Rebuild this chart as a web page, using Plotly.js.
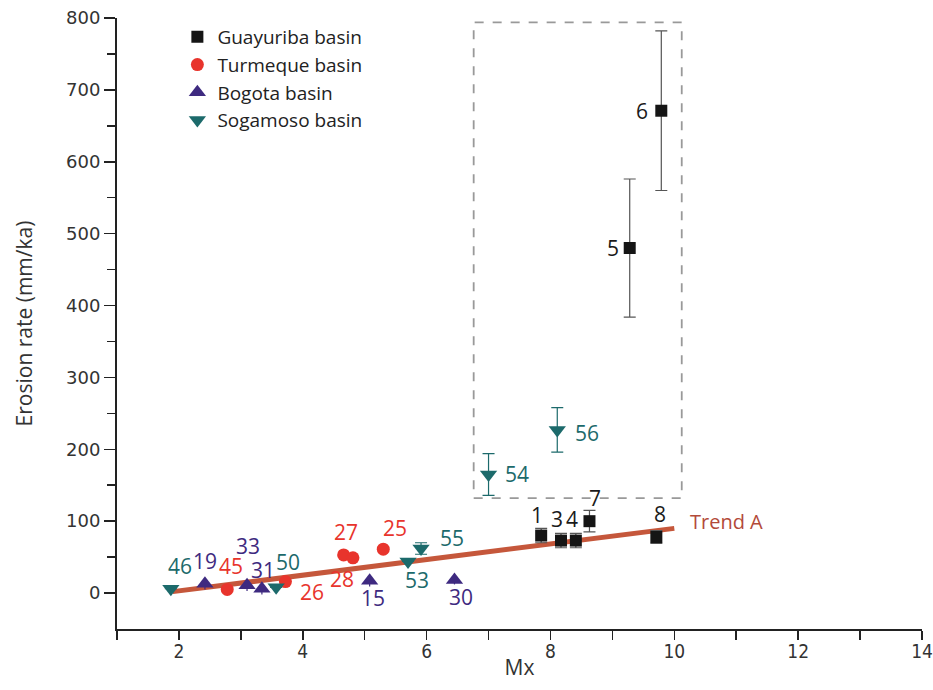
<!DOCTYPE html>
<html>
<head>
<meta charset="utf-8">
<script src="https://cdn.plot.ly/plotly-3.0.1.min.js"></script>
<style>html,body{margin:0;padding:0;background:#fff;} #chart{width:933px;height:690px;}</style>
</head>
<body>
<div id="chart"></div>
<script>
// ---- data ----
const guaLabels = ["1","3","4","7","8","5","6"];
const guaX = [7.85, 8.17, 8.41, 8.63, 9.71, 9.28, 9.79];
const guaY = [80, 73, 73, 100, 78, 480, 671];
const guaErr = [10, 10, 10, 15, 9, 96, 111];

const turLabels = ["45","26","27","28","25"];
const turX = [2.78, 3.72, 4.66, 4.81, 5.30];
const turY = [5, 16, 53, 49, 61];
const turErr = [0, 0, 0, 0, 5];

const bogLabels = ["19","33","31","15","30"];
const bogX = [2.42, 3.10, 3.34, 5.08, 6.45];
const bogY = [13, 11, 6, 17, 18];
const bogErr = [8, 8, 8, 8, 6];

const sogLabels = ["46","50","53","55","54","56"];
const sogX = [1.87, 3.57, 5.70, 5.91, 7.00, 8.11];
const sogY = [6, 8, 44, 62, 165, 227];
const sogErr = [0, 0, 0, 8, 29, 31];

const trendX = [1.9, 10.0];
const trendY = [2, 90];

// ---- styles ----
const C = {gua:"#151515", tur:"#e8342c", bog:"#3e2a80", sog:"#1c6a6b", trend:"#c5573b"};
// label pixel offsets [dx, dy] (dy positive = down)
const off = {
  "1":[-4,-21],"3":[-4,-22],"4":[-4,-22],"7":[6,-23],"8":[4,-23],"5":[-17,0],"6":[-19,0],
  "45":[4,-23],"26":[27,10],"27":[2,-23],"28":[-11,21],"25":[12,-21],
  "19":[0,-23],"33":[1,-39],"31":[1,-19],"15":[3,17],"30":[7,17],
  "46":[9,-23],"50":[12,-25],"53":[9,19],"55":[31,-10],"54":[28,0],"56":[30,3]
};

function mk(name, xs, ys, errs, symbol, color, size, errColor, errW) {
  return {
    type:"scatter", mode:"markers", name:name, x:xs, y:ys,
    marker:{symbol:symbol, color:color, size:size, line:{width:0}},
    error_y:{type:"data", array:errs, visible:true, color:errColor, thickness:1.2, width:errW}
  };
}

const traces = [
  {type:"scatter", mode:"lines", x:trendX, y:trendY, showlegend:false, hoverinfo:"skip",
   line:{color:C.trend, width:5}},
  mk("Guayuriba basin", guaX, guaY, guaErr, "square", C.gua, 12, "#555", 6),
  mk("Turmeque basin", turX, turY, turErr, "circle", C.tur, 13, C.tur, 3),
  mk("Bogota basin", bogX, bogY, bogErr, "triangle-up", C.bog, 15, C.bog, 0),
  mk("Sogamoso basin", sogX, sogY, sogErr, "triangle-down", C.sog, 15, C.sog, 6)
];

const annotations = [];
function addLabels(labels, xs, ys, color) {
  labels.forEach((t, i) => {
    const o = off[t] || [0, -20];
    annotations.push({x:xs[i], y:ys[i], text:t, showarrow:false, xshift:o[0], yshift:-o[1],
      font:{family:"Open Sans, DejaVu Sans, sans-serif", size:21, color:color}});
  });
}
addLabels(guaLabels, guaX, guaY, "#1a1a1a");
addLabels(turLabels, turX, turY, C.tur);
addLabels(bogLabels, bogX, bogY, C.bog);
addLabels(sogLabels, sogX, sogY, C.sog);
annotations.push({x:trendX[1], y:trendY[1], text:"Trend A", showarrow:false, xanchor:"left",
  xshift:14, yshift:7, font:{family:"Open Sans, DejaVu Sans, sans-serif", size:20, color:"#b34a3a"}});

const layout = {
  width:933, height:690,
  margin:{l:117, r:11, t:18, b:61},
  paper_bgcolor:"#fff", plot_bgcolor:"#fff",
  showlegend:true,
  legend:{x:0.075, y:1.0, xanchor:"left", yanchor:"top", bgcolor:"rgba(0,0,0,0)",
    font:{family:"Open Sans, DejaVu Sans, sans-serif", size:19, color:"#222"}, tracegroupgap:0, itemwidth:30},
  xaxis:{range:[1,14], tickvals:[2,4,6,8,10,12,14], ticks:"outside", ticklen:9, tickwidth:1.5, tickcolor:"#222",
    minor:{tickvals:[1,3,5,7,9,11,13], ticks:"outside", ticklen:9, tickwidth:1.5, tickcolor:"#222"},
    showline:true, linecolor:"#222", linewidth:2, showgrid:false, zeroline:false, ticklabelstandoff:-5,
    tickfont:{family:"Liberation Sans Narrow, DejaVu Sans Condensed, sans-serif", size:19, color:"#333"},
    title:{text:"Mx", font:{family:"Open Sans, DejaVu Sans, sans-serif", size:21, color:"#333"}, standoff:0}},
  yaxis:{range:[-50,800], tickvals:[0,100,200,300,400,500,600,700,800], ticks:"outside", ticklen:11, tickwidth:1.5, tickcolor:"#222",
    minor:{tickvals:[50,150,250,350,450,550,650,750], ticks:"outside", ticklen:8, tickwidth:1.5, tickcolor:"#222"},
    showline:true, linecolor:"#222", linewidth:2, showgrid:false, zeroline:false,
    tickfont:{family:"DejaVu Sans, sans-serif", size:18, color:"#333"},
    title:{text:"Erosion rate (mm/ka)", font:{family:"Open Sans, DejaVu Sans, sans-serif", size:21, color:"#333"}, standoff:28}},
  shapes:[{type:"rect", xref:"x", yref:"y", x0:6.76, x1:10.12, y0:132, y1:794,
    line:{color:"#999", width:1.8, dash:"dash"}, fillcolor:"rgba(0,0,0,0)"}],
  annotations:annotations
};

Plotly.newPlot("chart", traces, layout, {displayModeBar:false, staticPlot:true});
</script>
</body>
</html>
